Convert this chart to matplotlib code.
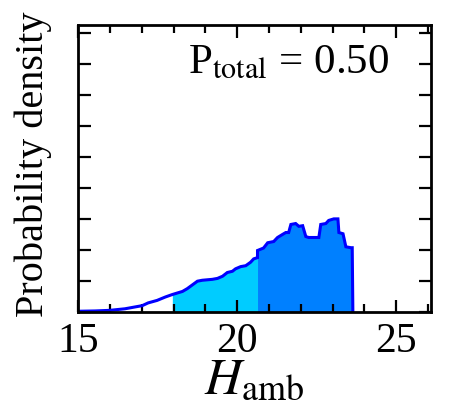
import numpy as np
import matplotlib.pyplot as plt
from matplotlib.ticker import MultipleLocator

# Probability density curve (y in arbitrary units)
h_amb = [15.0, 15.53, 16.0, 16.47, 16.79, 17.01, 17.2, 17.48, 17.74, 17.96,
         18.28, 18.43, 18.59, 18.75, 18.9, 19.22, 19.38, 19.54, 19.69, 19.85,
         19.95, 20.11, 20.27, 20.42, 20.52, 20.64, 20.64, 20.83, 20.96, 21.15,
         21.27, 21.43, 21.53, 21.62, 21.69, 21.84, 21.94, 22.06, 22.16, 22.25,
         22.57, 22.63, 22.79, 22.88, 23.04, 23.17, 23.2, 23.33, 23.42, 23.58,
         23.62, 23.64]
density = [0.02, 0.03, 0.05, 0.1, 0.16, 0.2, 0.29, 0.37, 0.48, 0.56,
           0.66, 0.75, 0.87, 0.99, 1.02, 1.05, 1.08, 1.15, 1.27, 1.31,
           1.39, 1.46, 1.49, 1.6, 1.71, 1.75, 1.98, 2.06, 2.23, 2.27,
           2.4, 2.5, 2.56, 2.56, 2.82, 2.85, 2.76, 2.78, 2.43, 2.4,
           2.4, 2.82, 2.85, 2.95, 3.0, 3.0, 2.56, 2.52, 2.1, 2.07,
           2.07, 0.0]
split_lo = 17.96
split_hi = 20.64
p_total = 0.50

plt.rcParams['font.family'] = ['Liberation Serif', 'DejaVu Serif']
plt.rcParams['mathtext.fontset'] = 'stix'

fig = plt.figure(figsize=(4.63, 4.12), dpi=100)
ax = fig.add_axes([0.169, 0.243, 0.762, 0.696])

x = np.array(h_amb)
y = np.array(density)
ax.fill_between(x, 0, y, where=(x >= split_lo) & (x <= split_hi),
                color='#00CCFF', lw=0)
ax.fill_between(x, 0, y, where=(x >= split_hi), color='#0080FF', lw=0)
ax.plot(x, y, color='#0000FF', lw=2.2, solid_joinstyle='miter')

ax.set_xlim(15, 26.1)
ax.set_ylim(0, 9.25)
ax.xaxis.set_major_locator(MultipleLocator(5))
ax.xaxis.set_minor_locator(MultipleLocator(1))
ax.yaxis.set_major_locator(MultipleLocator(1))
ax.tick_params(axis='both', which='both', direction='in', top=True, right=True)
ax.tick_params(axis='x', which='major', length=9, width=1.6, labelsize=30, pad=8)
ax.tick_params(axis='x', which='minor', length=6, width=1.6)
ax.tick_params(axis='y', which='major', length=9, width=1.6, labelleft=False)
for s in ax.spines.values():
    s.set_linewidth(2)

ax.set_ylabel('Probability density', fontsize=29)
ax.yaxis.set_label_coords(-0.075, 0.515)
ax.set_xlabel(r'$\mathit{H}_{\mathrm{amb}}$', fontsize=37, labelpad=-2)
ax.text(0.31, 0.833, r'P$_{\mathrm{total}}$ = %.2f' % p_total, transform=ax.transAxes,
        fontsize=31)

fig.savefig('out.png', dpi=100)
